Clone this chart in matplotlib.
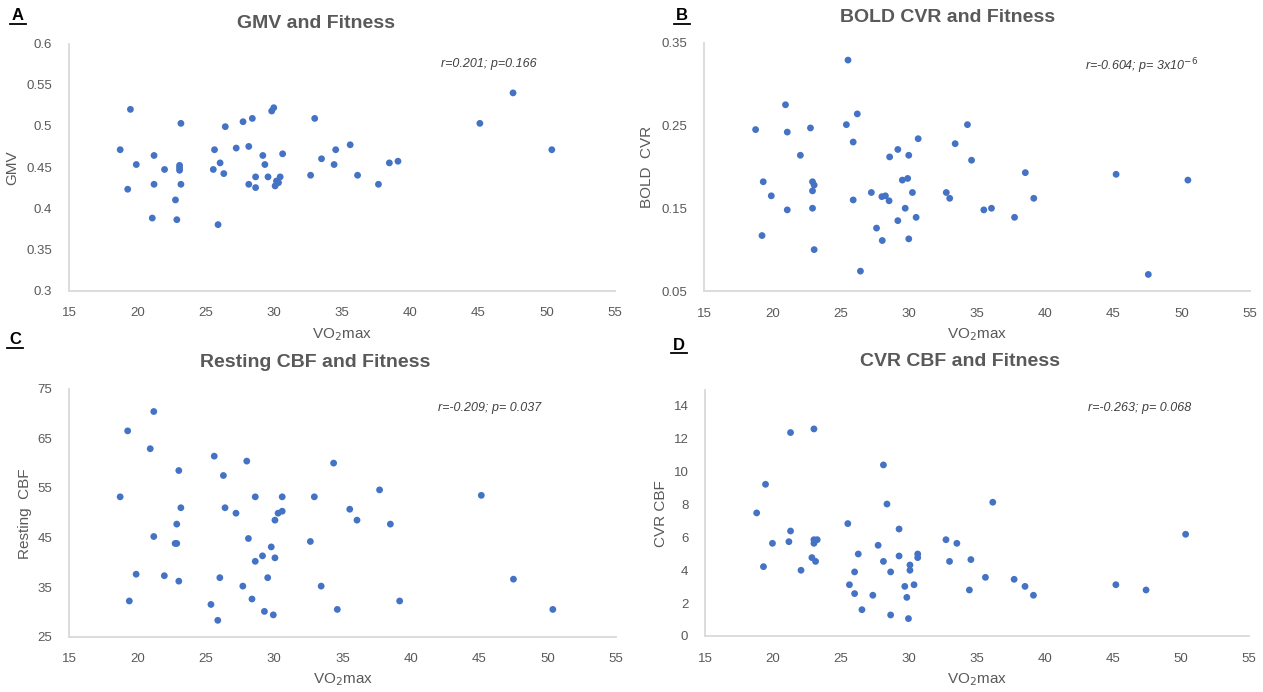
import numpy as np
import matplotlib
matplotlib.use('Agg')
import matplotlib.pyplot as plt

plt.rcParams['font.family'] = ['Liberation Sans Narrow', 'Liberation Sans', 'DejaVu Sans']

# panel A - GMV
gmv_vo2 = [18.75, 19.5, 19.3, 19.93, 21.23, 21.23, 21.1, 22.0, 22.8, 22.9, 23.1, 23.1, 23.1,
           23.2, 23.2, 25.57, 25.66, 26.07, 25.92, 26.34, 26.45, 27.25, 27.75, 28.17, 28.17,
           28.43, 28.67, 28.67, 29.2, 29.35, 29.58, 29.85, 30.0, 30.1, 30.2, 30.35, 30.47,
           30.65, 32.7, 33.0, 33.5, 34.42, 34.54, 35.6, 36.14, 37.67, 38.47, 39.1, 45.1,
           47.53, 50.37]
gmv = [0.471, 0.520, 0.423, 0.453, 0.464, 0.429, 0.388, 0.447, 0.410, 0.386, 0.452, 0.449,
       0.446, 0.503, 0.429, 0.447, 0.471, 0.455, 0.380, 0.442, 0.499, 0.473, 0.505, 0.475,
       0.429, 0.509, 0.438, 0.425, 0.464, 0.453, 0.438, 0.518, 0.522, 0.427, 0.433, 0.431,
       0.438, 0.466, 0.440, 0.509, 0.460, 0.453, 0.471, 0.477, 0.440, 0.429, 0.455, 0.457,
       0.503, 0.540, 0.471]

# panel B - BOLD CVR
bold_vo2 = [18.78, 19.34, 19.25, 19.93, 20.97, 21.1, 21.1, 22.06, 22.8, 22.95, 23.07, 22.95,
            22.95, 23.07, 25.43, 25.55, 25.93, 25.93, 26.23, 26.46, 27.26, 27.64, 28.03, 28.29,
            28.06, 28.56, 28.6, 29.2, 29.2, 29.53, 29.74, 29.92, 30.0, 30.0, 30.27, 30.54,
            30.69, 32.75, 33.0, 33.4, 34.3, 34.6, 35.5, 36.06, 37.75, 38.54, 39.16, 45.19,
            47.55, 50.45]
bold_cvr = [0.245, 0.182, 0.117, 0.165, 0.275, 0.242, 0.148, 0.214, 0.247, 0.182, 0.178,
            0.171, 0.150, 0.100, 0.251, 0.329, 0.230, 0.160, 0.264, 0.074, 0.169, 0.126,
            0.164, 0.165, 0.111, 0.159, 0.212, 0.221, 0.135, 0.184, 0.150, 0.186, 0.214,
            0.113, 0.169, 0.139, 0.234, 0.169, 0.162, 0.228, 0.251, 0.208, 0.148, 0.150,
            0.139, 0.193, 0.162, 0.191, 0.070, 0.184]

# panel C - resting CBF
rcbf_vo2 = [18.74, 19.29, 19.41, 19.91, 20.94, 21.2, 21.2, 21.97, 22.76, 22.88, 22.88, 23.03,
            23.18, 23.03, 25.38, 25.62, 25.88, 26.03, 26.29, 26.41, 27.21, 27.71, 28.0, 28.12,
            28.38, 28.62, 28.62, 29.15, 29.29, 29.53, 29.79, 29.94, 30.06, 30.06, 30.29, 30.59,
            30.59, 32.65, 32.94, 33.44, 34.35, 34.62, 35.53, 36.06, 37.71, 38.5, 39.18, 45.15,
            47.5, 50.38]
resting_cbf = [53.2, 66.5, 32.2, 37.6, 62.9, 70.4, 45.2, 37.3, 43.8, 43.8, 47.7, 58.5, 51.0,
               36.2, 31.5, 61.4, 28.3, 36.9, 57.5, 51.0, 49.9, 35.2, 60.4, 44.8, 32.6, 53.2,
               40.2, 41.3, 30.1, 36.9, 43.1, 29.4, 40.9, 48.5, 49.9, 50.3, 53.2, 44.2, 53.2,
               35.2, 60.0, 30.5, 50.7, 48.5, 54.6, 47.7, 32.2, 53.5, 36.6, 30.5]

# panel D - CVR CBF
ccbf_vo2 = [18.8, 19.45, 19.3, 19.96, 21.17, 21.29, 21.29, 22.06, 22.86, 23.01, 23.01, 23.13,
            23.01, 23.25, 25.5, 25.62, 26.0, 26.0, 26.27, 26.54, 27.34, 27.73, 28.12, 28.12,
            28.38, 28.65, 28.65, 29.27, 29.27, 29.69, 29.84, 29.96, 30.07, 30.07, 30.37, 30.64,
            30.64, 32.72, 32.98, 33.52, 34.44, 34.55, 35.62, 36.16, 37.73, 38.53, 39.15, 45.21,
            47.43, 50.34]
cvr_cbf = [7.49, 9.23, 4.22, 5.64, 5.74, 12.38, 6.39, 4.0, 4.77, 12.6, 5.64, 4.54, 5.86, 5.86,
           6.84, 3.12, 3.9, 2.58, 4.99, 1.6, 2.48, 5.52, 10.41, 4.54, 8.03, 3.9, 1.28, 6.51,
           4.87, 3.02, 2.35, 1.06, 4.32, 4.0, 3.12, 4.99, 4.77, 5.86, 4.54, 5.64, 2.8, 4.65,
           3.57, 8.14, 3.45, 3.02, 2.48, 3.12, 2.8, 6.19]

x_ticks = [15, 20, 25, 30, 35, 40, 45, 50, 55]

W, H = 1263, 692
fig = plt.figure(figsize=(W / 100, H / 100), dpi=100)

def px(x, y):
    return x / W, 1 - y / H

def make_axes(left, right, top, bottom):
    return fig.add_axes([left / W, 1 - bottom / H, (right - left) / W, (bottom - top) / H])

panels = [
    # x, y, box(l, r, t, b), ylim, yticks, ytick fmt
    (gmv_vo2, gmv, (69, 615, 43.5, 290.5), (0.3, 0.6), [0.3, 0.35, 0.4, 0.45, 0.5, 0.55, 0.6]),
    (bold_vo2, bold_cvr, (704, 1250, 42.7, 291), (0.05, 0.35), [0.05, 0.15, 0.25, 0.35]),
    (rcbf_vo2, resting_cbf, (69, 616, 388.7, 636.7), (25, 75), [25, 35, 45, 55, 65, 75]),
    (ccbf_vo2, cvr_cbf, (705, 1249, 389.5, 636), (0, 15), [0, 2, 4, 6, 8, 10, 12, 14]),
]

for xs, ys, box, ylim, yticks in panels:
    ax = make_axes(*box)
    ax.scatter(xs, ys, s=24, color='#4472C4', edgecolors='none', zorder=3)
    ax.set_xlim(15, 55)
    ax.set_ylim(*ylim)
    ax.set_xticks(x_ticks)
    ax.set_yticks(yticks)
    ax.set_yticklabels(['%g' % t for t in yticks])
    ax.tick_params(length=0, labelsize=9.5, labelcolor='#595959')
    ax.tick_params(axis='x', pad=12)
    ax.tick_params(axis='y', pad=12)
    for s in ['top', 'right']:
        ax.spines[s].set_visible(False)
    for s in ['left', 'bottom']:
        ax.spines[s].set_color('#d9d9d9')
        ax.spines[s].set_linewidth(1.3)
    ax.patch.set_alpha(0)

# titles
title_kw = dict(ha='center', va='center', fontsize=14, fontweight='bold', color='#595959')
fig.text(*px(316, 23), 'GMV and Fitness', **title_kw)
fig.text(*px(948, 17), 'BOLD CVR and Fitness', **title_kw)
fig.text(*px(315, 363), 'Resting CBF and Fitness', **title_kw)
fig.text(*px(960, 362), 'CVR CBF and Fitness', **title_kw)

# panel letters
letter_kw = dict(ha='center', va='center', fontsize=12, fontweight='bold', color='black')
for lx, ly, letter in [(18, 16, 'A'), (682, 16, 'B'), (15, 340, 'C'), (679, 345, 'D')]:
    fig.text(*px(lx, ly), letter, **letter_kw)
    fig.add_artist(plt.Line2D([(lx - 8) / W, (lx + 8) / W], [1 - (ly + 8) / H] * 2,
                              color='black', lw=1.3))

# stats
stat_kw = dict(ha='center', va='center', fontsize=9, style='italic', color='#404040')
fig.text(*px(489, 64), 'r=0.201; p=0.166', **stat_kw)
fig.text(*px(1142, 66), r'r=-0.604; p= 3x10$^{-6}$', **stat_kw)
fig.text(*px(490, 408), 'r=-0.209; p= 0.037', **stat_kw)
fig.text(*px(1140, 408), 'r=-0.263; p= 0.068', **stat_kw)

# axis labels
xl_kw = dict(ha='center', va='center', fontsize=11, color='#595959')
for lx, ly in [(342, 335), (977, 335), (343, 680), (977, 680)]:
    fig.text(*px(lx, ly), r'VO$_2$max', **xl_kw)

yl_kw = dict(ha='center', va='center', fontsize=11, color='#595959', rotation=90)
fig.text(*px(12, 168), 'GMV', **yl_kw)
fig.text(*px(647, 167), 'BOLD  CVR', **yl_kw)
fig.text(*px(25, 514), 'Resting  CBF', **yl_kw)
fig.text(*px(661, 514), 'CVR CBF', **yl_kw)

plt.rcParams['mathtext.fontset'] = 'custom'
fig.savefig('out.png', dpi=100)
